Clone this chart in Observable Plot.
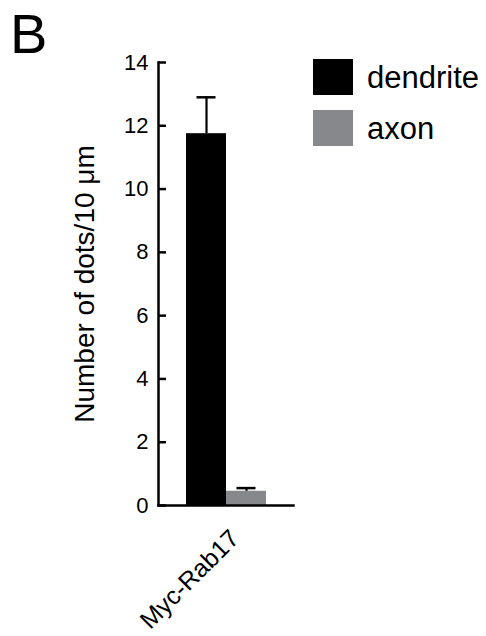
<!DOCTYPE html>
<html>
<head>
<meta charset="utf-8">
<script src="https://cdn.jsdelivr.net/npm/d3@7"></script>
<script src="https://cdn.jsdelivr.net/npm/@observablehq/plot@0.6"></script>
<style>
  html, body { margin: 0; padding: 0; background: #fff; }
  #wrap { position: relative; width: 486px; height: 636px; font-family: "Liberation Sans", Arial, Helvetica, sans-serif; color: #000; }
  #wrap svg { position: absolute; left: 0; top: 0; }
  .panel { position: absolute; left: 10px; top: 6px; font-size: 56px; line-height: 1; }
  .leg { position: absolute; left: 313px; display: flex; align-items: center; }
  .sw { width: 40px; height: 36px; margin-right: 14px; }
  .lt { font-size: 31px; line-height: 1; }
</style>
</head>
<body>
<div id="wrap"></div>
<script>
const groups = ["Myc-Rab17"];
const regions = ["dendrite", "axon"];
const means = [11.75, 0.45];
const errors = [1.15, 0.1];
const colors = ["#000000", "#87888c"];
const yTicks = [0, 2, 4, 6, 8, 10, 12, 14];
const yLabel = "Number of dots/10 μm";
const panelLabel = "B";

const data = regions.map((r, i) => ({group: groups[0], region: r, mean: means[i], err: errors[i]}));

const chart = Plot.plot({
  width: 486,
  height: 636,
  marginTop: 62,
  marginBottom: 131,
  marginLeft: 158,
  marginRight: 193,
  style: {fontFamily: '"Liberation Sans", Arial, Helvetica, sans-serif', fontSize: "22px", color: "#000", background: "transparent", overflow: "visible"},
  fx: {domain: groups, padding: 0, label: null, axis: null},
  x: {domain: regions, paddingInner: 0, paddingOuter: 0.6875, axis: null},
  y: {domain: [0, 14], axis: null},
  color: {domain: regions, range: colors},
  marks: [
    Plot.barY(data, {fx: "group", x: "region", y: "mean", fill: "region"}),
    Plot.ruleX(data, {fx: "group", x: "region", y1: "mean", y2: d => d.mean + d.err, stroke: "#000", strokeWidth: 2.2}),
    Plot.tickY(data, {fx: "group", x: "region", y: d => d.mean + d.err, stroke: "#000", strokeWidth: 2.5, insetLeft: 10.5, insetRight: 10.5}),
    Plot.frame({anchor: "left", stroke: "#000", strokeWidth: 2.5}),
    Plot.frame({anchor: "bottom", stroke: "#000", strokeWidth: 2.5}),
    Plot.axisY(yTicks, {tickSize: 0, tickPadding: 10, fontSize: 22, label: null}),
    Plot.axisY(yTicks, {tickSize: 8, dx: 8, stroke: "#000", strokeWidth: 2.5, tickFormat: () => "", label: null}),
    Plot.axisY([], {tickSize: 0, fontSize: 28, label: yLabel, labelAnchor: "center", labelArrow: "none", labelOffset: 84}),
    Plot.axisFx({anchor: "bottom", tickSize: 0, tickRotate: -45, fontSize: 25, label: null, dx: 9, dy: 17})
  ]
});

const wrap = document.getElementById("wrap");
wrap.appendChild(chart);

const p = document.createElement("div");
p.className = "panel";
p.textContent = panelLabel;
wrap.appendChild(p);

const legTops = [59, 110];
regions.forEach((r, i) => {
  const row = document.createElement("div");
  row.className = "leg";
  row.style.top = legTops[i] + "px";
  const sw = document.createElement("div");
  sw.className = "sw";
  sw.style.background = colors[i];
  const t = document.createElement("div");
  t.className = "lt";
  t.textContent = r;
  row.appendChild(sw);
  row.appendChild(t);
  wrap.appendChild(row);
});
</script>
</body>
</html>
